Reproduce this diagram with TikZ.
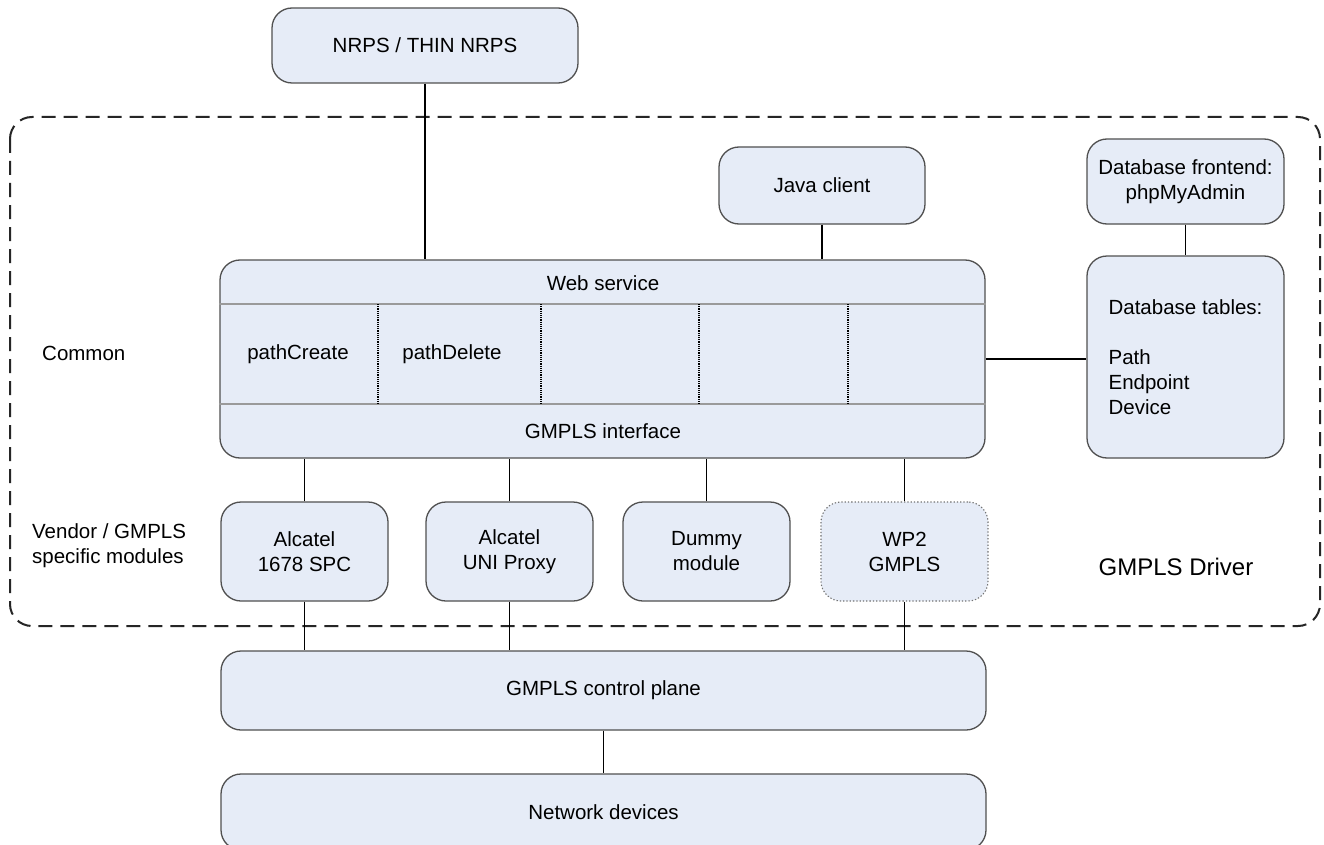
\documentclass[tikz,border=0pt]{standalone}
\usepackage{fontspec}
\setmainfont{Liberation Sans}
\definecolor{boxfill}{HTML}{E6ECF7}
\definecolor{boxline}{HTML}{505050}
\definecolor{sepline}{HTML}{9A9A9A}
\tikzset{
  box/.style={draw=boxline, line width=1.3pt, fill=boxfill, rounded corners=20pt,
    inner sep=0pt, align=center, font=\fontsize{20.5}{25}\selectfont},
  dottedbox/.style={box, draw=boxline!80, dotted, line width=1.1pt},
  conn/.style={draw=black, line width=1.2pt},
  lbl/.style={inner sep=0pt, font=\fontsize{20.5}{25}\selectfont},
  container/.style={draw=black!85, line width=2pt, dash pattern=on 14pt off 8pt, rounded corners=22pt}
}
\begin{document}
\begin{tikzpicture}[x=1pt,y=-1pt]
\clip (0,0) rectangle (1324,845);
\fill[white] (0,0) rectangle (1324,845);

% dashed container
\draw[container] (10,117) rectangle (1320,626);

% nodes
\node[box, minimum width=306pt, minimum height=75pt] (nrps) at (425,45.5) {NRPS / THIN NRPS};
\node[box, minimum width=206pt, minimum height=77pt] (java) at (822,185.5) {Java client};
\node[box, minimum width=197pt, minimum height=85pt] (dbf) at (1185.5,181.5) {Database frontend:\\phpMyAdmin};
\node[box, minimum width=197pt, minimum height=202pt, align=left] (dbt) at (1185.5,357) {Database tables:\\[25pt]Path\\Endpoint\\Device};
\node[box, minimum width=765pt, minimum height=198pt] (ws) at (602.5,359) {};

% internal structure of web service
\draw[sepline, line width=1.2pt] (ws.west |- 0,304) -- (ws.east |- 0,304);
\draw[sepline, line width=1.2pt] (ws.west |- 0,404) -- (ws.east |- 0,404);
\foreach \xx in {378,541,699,848}{
  \draw[black, line width=1.2pt, densely dotted] (\xx,304) -- (\xx,404);
}
\node[lbl] (wst) at (603,283) {Web service};
\node[lbl] (gi) at (603,431) {GMPLS interface};
\node[lbl] (pc) at (298,354) {pathCreate};
\node[lbl] (pd) at (452,354) {pathDelete};

% modules
\node[box, minimum width=167pt, minimum height=99pt] (m1) at (304.5,551.5) {Alcatel\\1678 SPC};
\node[box, minimum width=167pt, minimum height=99pt] (m2) at (509.5,551.5) {Alcatel\\UNI Proxy};
\node[box, minimum width=167pt, minimum height=99pt] (m3) at (706.5,551.5) {Dummy\\module};
\node[dottedbox, minimum width=167pt, minimum height=99pt] (m4) at (904.5,551.5) {WP2\\GMPLS};

\node[box, minimum width=765pt, minimum height=79pt] (cp) at (603.5,690.5) {GMPLS control plane};
\node[box, minimum width=765pt, minimum height=76pt] (nd) at (603.5,812) {Network devices};

% side labels
\node[lbl, anchor=west] (common) at (42,353) {Common};
\node[lbl, anchor=west, align=left] (vendor) at (32,545.5) {Vendor / GMPLS\\specific modules};
\node[inner sep=0pt, font=\fontsize{24}{28}\selectfont] (driver) at (1176,567) {GMPLS Driver};

% connectors
\draw[conn] (nrps.south) -- (nrps.south |- ws.north);
\draw[conn] (java.south) -- (java.south |- ws.north);
\draw[conn] (dbf.south) -- (dbt.north);
\draw[conn] (ws.east) -- (ws.east -| dbt.west);
\foreach \m in {m1,m2,m3,m4}{
  \draw[conn] (\m.north) -- (\m.north |- ws.south);
}
\foreach \m in {m1,m2,m4}{
  \draw[conn] (\m.south) -- (\m.south |- cp.north);
}
\draw[conn] (cp.south) -- (nd.north);
\end{tikzpicture}
\end{document}
